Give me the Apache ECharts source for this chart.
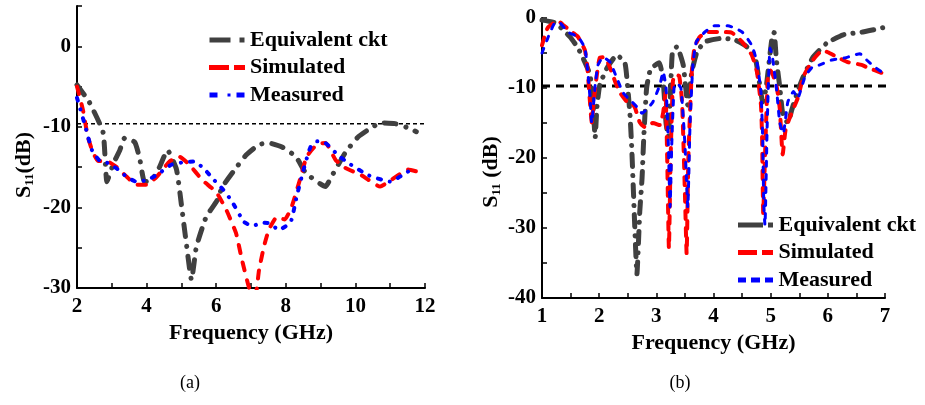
<!DOCTYPE html>
<html><head><meta charset="utf-8">
<script src="https://cdn.jsdelivr.net/npm/echarts@6/dist/echarts.min.js"></script>
<style>html,body{margin:0;padding:0;background:#fff}#c{width:925px;height:405px}</style>
</head><body><div id="c"></div>
<script>
// ---------- (a) 2-12 GHz ----------
const freqEqA = [2, 2.35, 2.75, 2.86, 3.05, 3.23, 3.37, 3.66, 3.8, 3.94, 4.15, 4.37, 4.6, 4.86, 5.03, 5.14, 5.29, 5.43, 5.71, 6.03, 6.17, 6.5, 6.86, 7.23, 7.51, 7.89, 8.29, 8.57, 9.14, 9.31, 9.71, 10.09, 10.5, 10.74, 11.14, 11.5, 11.75];
const s11EqA = [-4.8, -6.9, -10.7, -16.8, -14.5, -12.9, -11.4, -11.9, -13.9, -16.8, -16.6, -15, -12.9, -15.3, -20.7, -24.4, -29, -24.9, -21.2, -19.1, -17.5, -15.5, -13.5, -12.2, -12, -12.5, -13.7, -15.7, -17.4, -16.2, -13.2, -11.2, -10, -9.5, -9.6, -10.1, -10.6];

const freqSimA = [2, 2.17, 2.31, 2.46, 2.6, 2.89, 3.14, 3.43, 3.71, 4, 4.29, 4.66, 4.94, 5.23, 5.6, 6, 6.29, 6.57, 6.74, 6.94, 7.05, 7.15, 7.23, 7.37, 7.51, 7.74, 7.97, 8.17, 8.43, 8.6, 8.89, 9.14, 9.43, 9.71, 10.17, 10.71, 11.03, 11.51, 12];
const s11SimA = [-5, -7.9, -11.2, -13.2, -14.2, -14.3, -15, -16.2, -17.2, -17.2, -16.2, -14.3, -13.7, -14.7, -16.6, -18.1, -20.3, -23.2, -26.5, -29.9, -31, -30.5, -27.8, -24.9, -22.8, -21.2, -21.5, -19.9, -16.2, -13.7, -12.2, -12, -14.1, -15.1, -16, -17.4, -16.6, -15.3, -15.8];

const freqMeasA = [2, 2.23, 2.43, 2.65, 2.89, 3.15, 3.43, 3.7, 4.03, 4.35, 4.71, 5.05, 5.37, 5.65, 5.94, 6.2, 6.43, 6.8, 7.05, 7.31, 7.55, 7.8, 8.14, 8.31, 8.51, 8.71, 8.9, 9.14, 9.5, 9.8, 10.37, 11, 11.35, 11.71];
const s11MeasA = [-6.4, -9.8, -12.9, -14.2, -14.5, -15.2, -16.2, -16.8, -16.6, -15.8, -14.7, -14.4, -14.3, -15.2, -16.6, -17.8, -19.1, -21.8, -22.3, -21.9, -22.0, -22.8, -21.8, -18.7, -15.3, -12.5, -11.8, -12, -13.5, -14.5, -16, -16.8, -16, -15];

const threshFreqA = [2, 12];
const threshValA = [-9.6, -9.6];

// ---------- (b) 1-7 GHz ----------
const freqEqB = [1, 1.23, 1.49, 1.63, 1.75, 1.84, 1.89, 1.93, 1.96, 2.01, 2.14, 2.31, 2.45, 2.5, 2.54, 2.57, 2.6, 2.63, 2.66, 2.71, 2.75, 2.78, 2.83, 2.9, 3.05, 3.12, 3.17, 3.21, 3.28, 3.36, 3.47, 3.55, 3.62, 3.71, 3.85, 4.15, 4.37, 4.55, 4.72, 4.81, 4.86, 4.92, 5.02, 5.06, 5.1, 5.16, 5.21, 5.3, 5.37, 5.48, 5.57, 5.74, 5.98, 6.27, 6.61, 6.96];
const s11EqB = [-0.3, -0.7, -2.7, -4.3, -6.3, -8.1, -12, -17.1, -12.8, -9.6, -7.1, -5.3, -6.4, -10, -13.9, -18.6, -24.9, -31.4, -36.6, -27.7, -22.9, -17.1, -10, -7.3, -6.4, -9, -15, -17, -4.9, -4.1, -6.7, -12.4, -7.7, -4.9, -3.4, -2.9, -3.1, -3.9, -5.3, -9.6, -12, -10, -3, -2.1, -6, -9.9, -13.6, -15, -13.1, -10.3, -8.4, -5.6, -3.6, -2.4, -2, -1.4];

const freqSimB = [1, 1.1, 1.28, 1.37, 1.54, 1.63, 1.75, 1.79, 1.83, 1.87, 1.91, 1.96, 2.01, 2.1, 2.19, 2.28, 2.36, 2.49, 2.57, 2.63, 2.71, 2.8, 2.94, 3.06, 3.12, 3.16, 3.19, 3.22, 3.25, 3.29, 3.33, 3.4, 3.45, 3.5, 3.53, 3.56, 3.62, 3.67, 3.76, 3.9, 4.14, 4.32, 4.5, 4.67, 4.76, 4.83, 4.85, 4.87, 4.9, 4.95, 5, 5.1, 5.16, 5.21, 5.26, 5.34, 5.48, 5.57, 5.74, 5.91, 6, 6.17, 6.35, 6.59, 6.7, 6.96];
const s11SimB = [-3.9, -1.4, -0.4, -1, -2.1, -2.7, -4.6, -6.7, -11, -14.9, -11.4, -8.1, -5.7, -5.6, -7.1, -9.1, -10.6, -12, -12.1, -12.9, -14.9, -15.6, -15, -15.3, -13.5, -10.7, -20, -32.9, -20, -9, -8.1, -8.3, -12, -25, -33.7, -20, -7.7, -4.1, -2.7, -2, -2, -2.1, -3.4, -5.3, -7.7, -12.4, -17.1, -28, -20, -8.5, -7.5, -9.6, -13, -19.5, -16, -14.1, -11.3, -8.4, -6, -4.6, -4.9, -5.6, -6.3, -6.7, -7.1, -7.9];

const freqMeasB = [1, 1.1, 1.23, 1.31, 1.45, 1.63, 1.75, 1.8, 1.84, 1.87, 1.93, 1.98, 2.07, 2.19, 2.31, 2.42, 2.54, 2.66, 2.75, 2.85, 2.94, 3.06, 3.12, 3.17, 3.21, 3.24, 3.27, 3.31, 3.36, 3.43, 3.5, 3.55, 3.59, 3.64, 3.7, 3.85, 4.02, 4.25, 4.5, 4.67, 4.76, 4.83, 4.86, 4.88, 4.9, 4.94, 4.99, 5.03, 5.1, 5.16, 5.22, 5.3, 5.4, 5.47, 5.6, 5.72, 5.86, 6.07, 6.3, 6.56, 6.68, 6.82, 6.94];
const s11MeasB = [-5, -2.9, -0.7, -0.7, -2, -2.7, -4.3, -7.7, -11.4, -15, -9.6, -6.7, -5.6, -6.3, -8.6, -10.7, -11.7, -12.7, -13.6, -12.9, -12, -9.6, -7.7, -10, -18, -27, -18, -10, -9.3, -10, -18, -27, -15, -6.7, -3.4, -2, -1.1, -1.1, -2, -3.9, -6.3, -10.6, -17.1, -26.7, -29.6, -15, -4.3, -5.5, -10, -15, -16.5, -12, -10.5, -11.5, -8.4, -7.1, -6.7, -6, -5.7, -5.1, -6, -7, -7.7];

const threshFreqB = [1, 7.38];
const threshValB = [-9.7, -9.7];

const seriesNames = ['Equivalent ckt', 'Simulated', 'Measured'];
const captions = ['(a)', '(b)'];

function pairs(f, v) { return f.map((x, i) => [x, v[i]]); }

const FF = '"Liberation Serif", "Times New Roman", serif';
const GRAY = '#404040', RED = '#ff0000', BLUE = '#0000ff';

function xAxis(idx, mn, mx, iv, labelEvery, gap) {
  return {
    gridIndex: idx, type: 'value', min: mn, max: mx, interval: iv,
    axisLine: { onZero: false, lineStyle: { color: '#000', width: 2 } },
    axisTick: { inside: true, length: 5, lineStyle: { color: '#000', width: 1.5 } },
    splitLine: { show: false },
    axisLabel: {
      margin: 8, color: '#000', fontFamily: FF, fontWeight: 'bold', fontSize: 21,
      formatter: v => (Math.abs(Math.round(v / labelEvery) * labelEvery - v) < 1e-6 ? String(Math.round(v)) : '')
    },
    name: 'Frequency (GHz)', nameLocation: 'middle', nameGap: gap,
    nameTextStyle: { color: '#000', fontFamily: FF, fontWeight: 'bold', fontSize: 22 }
  };
}
function yAxis(idx, mn, mx, name, gap, pad) {
  return {
    gridIndex: idx, type: 'value', min: mn, max: mx, interval: 5,
    axisLine: { onZero: false, lineStyle: { color: '#000', width: 2 } },
    axisTick: { inside: true, length: 5, lineStyle: { color: '#000', width: 1.5 } },
    splitLine: { show: false },
    axisLabel: {
      margin: 6, color: '#000', fontFamily: FF, fontWeight: 'bold', fontSize: 21,
      formatter: v => (v % 10 === 0 && v <= 0 ? String(v) : '')
    },
    name: name, nameLocation: 'middle', nameGap: gap, nameRotate: 90,
    nameTextStyle: {
      color: '#000', fontFamily: FF, fontWeight: 'bold', fontSize: 22, padding: pad,
      rich: {
        s: { fontFamily: FF, fontWeight: 'bold', fontSize: 22, color: '#000' },
        sub: { fontFamily: FF, fontWeight: 'bold', fontSize: 13, color: '#000', verticalAlign: 'bottom', padding: [10, 0, 0, 0] }
      }
    }
  };
}
function line(name, idx, f, v, color, width, dash, z) {
  return {
    type: 'line', name: name, xAxisIndex: idx, yAxisIndex: idx,
    data: pairs(f, v), symbol: 'none', smooth: 0.15, z: z,
    lineStyle: { color: color, width: width, type: dash, cap: 'round' },
    itemStyle: { color: color }
  };
}
function legendText() { return { color: '#000', fontFamily: FF, fontWeight: 'bold', fontSize: 22, lineHeight: 22 }; }

const chart = echarts.init(document.getElementById('c'), null, { renderer: 'canvas' });
chart.setOption({
  animation: false,
  backgroundColor: '#fff',
  grid: [
    { left: 77, right: 500, top: 6, bottom: 117, containLabel: false, outerBoundsMode: 'none' },
    { left: 542, right: 40, top: 18, bottom: 107, containLabel: false, outerBoundsMode: 'none' }
  ],
  xAxis: [xAxis(0, 2, 12, 1, 2, 33), xAxis(1, 1, 7, 0.5, 1, 26)],
  yAxis: [
    yAxis(0, -30, 5, '{s|S}{sub|11}{s|(dB)}', 41, [0, 36, 0, 0]),
    yAxis(1, -40, 0, '{s|S}{sub|11}{s| (dB)}', 39, [0, 28, 0, 0])
  ],
  legend: [
    {
      left: 209, top: 29, padding: 0, orient: 'vertical', itemWidth: 36, itemHeight: 5, itemGap: 5.5,
      textStyle: legendText(), selectedMode: false,
      data: [
        { name: seriesNames[0], icon: 'path://M0,0H21V5H0Z M30,0H35V5H30Z' },
        { name: seriesNames[1], icon: 'path://M0,0H20V5H0Z M25,0H36V5H25Z' },
        { name: seriesNames[2], icon: 'path://M0,0H8V5H0Z M18,1H21V4H18Z M27,0H35V5H27Z' }
      ]
    },
    {
      left: 738, top: 214, padding: 0, orient: 'vertical', itemWidth: 36, itemHeight: 5, itemGap: 5.5,
      textStyle: legendText(), selectedMode: false,
      data: [
        { name: seriesNames[0], icon: 'path://M0,0H25V5H0Z M30,0H35V5H30Z' },
        { name: seriesNames[1], icon: 'path://M0,0H19V5H0Z M24,0H35V5H24Z' },
        { name: seriesNames[2], icon: 'path://M0,0H8V5H0Z M13,0H22V5H13Z M27,0H35V5H27Z' }
      ]
    }
  ],
  graphic: [
    { type: 'text', x: 190, y: 383, style: { text: captions[0], font: '18px "Liberation Serif"', fill: '#000', align: 'center', verticalAlign: 'middle', textAlign: 'center', textVerticalAlign: 'middle' } },
    { type: 'text', x: 680, y: 383, style: { text: captions[1], font: '18px "Liberation Serif"', fill: '#000', align: 'center', verticalAlign: 'middle', textAlign: 'center', textVerticalAlign: 'middle' } }
  ],
  series: [
    { type: 'line', name: 'thrA', xAxisIndex: 0, yAxisIndex: 0, data: pairs(threshFreqA, threshValA), symbol: 'none', silent: true, z: 1,
      lineStyle: { color: '#000', width: 1.5, type: [4, 3] } },
    line(seriesNames[0], 0, freqEqA, s11EqA, GRAY, 5, [12, 10, 0.1, 10], 2),
    line(seriesNames[1], 0, freqSimA, s11SimA, RED, 4, [8, 10], 3),
    line(seriesNames[2], 0, freqMeasA, s11MeasA, BLUE, 4, [3, 9, 0.1, 9], 4),

    { type: 'line', name: 'thrB', xAxisIndex: 1, yAxisIndex: 1, data: pairs(threshFreqB, threshValB), symbol: 'none', silent: true, z: 1, clip: false,
      lineStyle: { color: '#000', width: 3, type: [8, 6] } },
    line(seriesNames[0], 1, freqEqB, s11EqB, GRAY, 5, [12, 9, 0.1, 9], 2),
    line(seriesNames[1], 1, freqSimB, s11SimB, RED, 4, [8, 9], 3),
    line(seriesNames[2], 1, freqMeasB, s11MeasB, BLUE, 3, [5, 8], 4)
  ]
});
</script>
</body></html>
